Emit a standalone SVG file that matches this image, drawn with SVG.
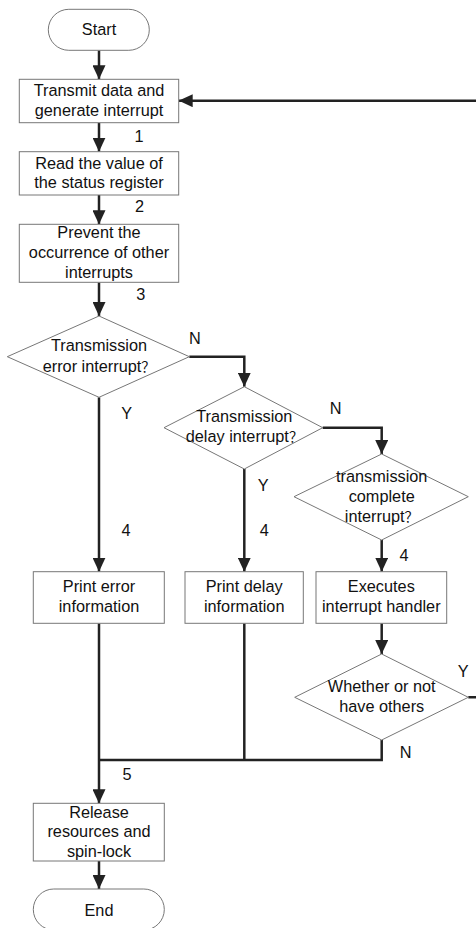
<svg xmlns="http://www.w3.org/2000/svg" width="476" height="928" viewBox="0 0 476 928">
<defs>
<style>
.box{fill:#fff;stroke:#777;stroke-width:1}
.t{font-family:"Liberation Sans","Noto Sans CJK SC",Arial,sans-serif;font-size:16.3px;fill:#111;text-anchor:middle}
.q{font-family:"Noto Sans CJK SC",sans-serif;font-size:14px}
.lbl{font-family:"Liberation Sans",Arial,sans-serif;font-size:16.3px;fill:#111;text-anchor:middle}
.c{fill:none;stroke:#222;stroke-width:2.5}
.ca{fill:none;stroke:#222;stroke-width:2.5;marker-end:url(#ah)}
</style>
<marker id="ah" viewBox="0 0 14 13" refX="14" refY="6.5" markerWidth="14" markerHeight="13" markerUnits="userSpaceOnUse" orient="auto">
<path d="M0,0 L14,6.5 L0,13 z" fill="#222"/>
</marker>
</defs>
<rect width="476" height="928" fill="#fff"/>
<g id="connectors">
<path class="ca" d="M99,50.3 V79.3"/>
<path class="ca" d="M99,122.7 V151.7"/>
<path class="ca" d="M99,195 V224.3"/>
<path class="ca" d="M99,282.3 V316"/>
<path class="ca" d="M189.3,356.7 H244.3 V386.7"/>
<path class="ca" d="M322.7,427.7 H381.7 V454"/>
<path class="ca" d="M99,397.3 V571.7"/>
<path class="ca" d="M244.3,469 V571.7"/>
<path class="ca" d="M381.7,540 V571.7"/>
<path class="ca" d="M381.7,623.3 V654"/>
<path class="c" d="M468.3,697.3 H480 V100.7"/>
<path class="ca" d="M480,100.7 H178.7"/>
<path class="c" d="M381.7,740 V760 H99"/>
<path class="c" d="M244.3,623.3 V760"/>
<path class="ca" d="M99,623.3 V803.3"/>
<path class="ca" d="M99,861 V889"/>
</g>
<g id="start">
<rect class="box" x="48.3" y="9.3" width="101" height="41" rx="20.5"/>
<text class="t" x="99" y="35">Start</text>
</g>
<g id="transmit">
<rect class="box" x="19.3" y="79.3" width="159.4" height="43.4"/>
<text class="t" x="99" y="96">Transmit data and</text>
<text class="t" x="99" y="115.5">generate interrupt</text>
</g>
<g id="read">
<rect class="box" x="19.3" y="151.7" width="159.4" height="43.3"/>
<text class="t" x="99" y="169">Read the value of</text>
<text class="t" x="99" y="188">the status register</text>
</g>
<g id="prevent">
<rect class="box" x="19.3" y="224.3" width="159.4" height="58"/>
<text class="t" x="99" y="238">Prevent the</text>
<text class="t" x="99" y="258">occurrence of other</text>
<text class="t" x="99" y="278">interrupts</text>
</g>
<g id="d-error">
<polygon class="box" points="99,316 189.3,356.7 99,397.3 7.3,356.7"/>
<text class="t" x="99" y="351">Transmission</text>
<text class="t" x="99" y="372">error interrupt<tspan class="q">？</tspan></text>
</g>
<g id="d-delay">
<polygon class="box" points="244.3,386.7 322.7,427.7 244.3,469 164,427.7"/>
<text class="t" x="244.3" y="422">Transmission</text>
<text class="t" x="244.3" y="442">delay interrupt<tspan class="q">？</tspan></text>
</g>
<g id="d-complete">
<polygon class="box" points="381.7,454 468.3,496.7 381.7,540 294,496.7"/>
<text class="t" x="381.7" y="482">transmission</text>
<text class="t" x="381.7" y="502">complete</text>
<text class="t" x="381.7" y="522">interrupt<tspan class="q">？</tspan></text>
</g>
<g id="print-error">
<rect class="box" x="33.3" y="571.7" width="131" height="51.6"/>
<text class="t" x="99" y="592">Print error</text>
<text class="t" x="99" y="611.5">information</text>
</g>
<g id="print-delay">
<rect class="box" x="185" y="571.7" width="118.3" height="51.6"/>
<text class="t" x="244.2" y="592">Print delay</text>
<text class="t" x="244.2" y="611.5">information</text>
</g>
<g id="handler">
<rect class="box" x="316" y="571.7" width="130.7" height="51.6"/>
<text class="t" x="381.3" y="592">Executes</text>
<text class="t" x="381.3" y="611.5">interrupt handler</text>
</g>
<g id="d-others">
<polygon class="box" points="381.7,654 468.3,697.3 381.7,740 294.7,697.3"/>
<text class="t" x="381.7" y="692">Whether or not</text>
<text class="t" x="381.7" y="712">have others</text>
</g>
<g id="release">
<rect class="box" x="33.3" y="803.3" width="131" height="57.7"/>
<text class="t" x="99" y="818">Release</text>
<text class="t" x="99" y="837">resources and</text>
<text class="t" x="99" y="857">spin-lock</text>
</g>
<g id="end">
<rect class="box" x="33.3" y="889" width="131" height="41" rx="20.5"/>
<text class="t" x="99" y="915.5">End</text>
</g>
<g id="labels">
<text class="lbl" x="139" y="142">1</text>
<text class="lbl" x="139.5" y="212">2</text>
<text class="lbl" x="140.7" y="300">3</text>
<text class="lbl" x="195" y="344">N</text>
<text class="lbl" x="335.7" y="414">N</text>
<text class="lbl" x="126.7" y="419">Y</text>
<text class="lbl" x="263.3" y="490.5">Y</text>
<text class="lbl" x="126" y="535.5">4</text>
<text class="lbl" x="264.3" y="535.5">4</text>
<text class="lbl" x="404" y="561">4</text>
<text class="lbl" x="463.3" y="677">Y</text>
<text class="lbl" x="405.7" y="758">N</text>
<text class="lbl" x="127" y="779.5">5</text>
</g>
</svg>
